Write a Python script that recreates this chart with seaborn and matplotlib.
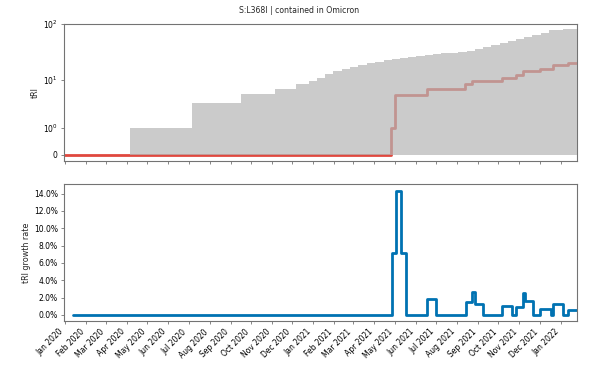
import numpy as np
import pandas as pd
import matplotlib
matplotlib.use('Agg')
import matplotlib.pyplot as plt
import matplotlib.dates as mdates
from matplotlib.ticker import PercentFormatter
import seaborn as sns

# data (step series: value holds until the next date)
title = 'S:L368I | contained in Omicron'

total_dates = ['2019-12-30', '2020-04-06', '2020-07-06', '2020-09-16', '2020-11-05',
               '2020-12-06', '2020-12-26', '2021-01-07', '2021-01-18', '2021-01-30',
               '2021-02-12', '2021-02-24', '2021-03-08', '2021-03-21', '2021-04-02',
               '2021-04-15', '2021-04-27', '2021-05-09', '2021-05-21', '2021-06-02',
               '2021-06-14', '2021-06-26', '2021-07-09', '2021-07-21', '2021-08-02',
               '2021-08-15', '2021-08-27', '2021-09-08', '2021-09-20', '2021-10-03',
               '2021-10-15', '2021-10-27', '2021-11-08', '2021-11-20', '2021-12-03',
               '2021-12-15', '2021-12-24', '2022-01-04', '2022-01-14', '2022-01-25']
total_tri = [0, 1.0, 3.6, 5.3, 6.8,
             8.2, 9.45, 10.9, 12.6, 14.5,
             15.6, 17.2, 18.5, 19.8, 21.3,
             22.7, 23.8, 25.0, 26.1, 27.2,
             28.2, 29.2, 29.9, 30.5, 31.9,
             33.5, 36.0, 38.6, 42.0, 45.5,
             49.8, 54.5, 59.5, 65.0, 70.5,
             76.7, 79.5, 80.5, 81.0, 81.0]

omicron_dates = ['2019-12-30', '2021-04-26', '2021-05-02', '2021-06-18', '2021-08-13',
                 '2021-08-23', '2021-10-06', '2021-10-27', '2021-11-07', '2021-12-02',
                 '2021-12-20', '2022-01-11', '2022-01-25']
omicron_tri = [0, 1.0, 5.1, 6.8, 8.2,
               9.6, 10.7, 12.1, 14.7, 15.8,
               18.2, 19.8, 19.8]

growth_dates = ['2020-01-13', '2021-04-27', '2021-05-03', '2021-05-11', '2021-05-17',
                '2021-06-18', '2021-07-01', '2021-08-14', '2021-08-23', '2021-08-28',
                '2021-09-08', '2021-10-06', '2021-10-21', '2021-10-27', '2021-11-06',
                '2021-11-09', '2021-11-21', '2021-12-02', '2021-12-17', '2021-12-20',
                '2022-01-04', '2022-01-11', '2022-01-25']
growth_rate = [0, 0.0715, 0.143, 0.0715, 0,
               0.0185, 0, 0.0145, 0.027, 0.013,
               0, 0.0108, 0, 0.0096, 0.0258,
               0.0166, 0, 0.0073, 0, 0.0127,
               0, 0.0058, 0.0058]

x_start, x_end = '2019-12-30', '2022-01-25'

sns.set_style('ticks')
plt.rcParams['font.family'] = ['DejaVu Sans']
plt.rcParams.update({
    'font.size': 5.5,
    'axes.edgecolor': '0.45',
    'axes.linewidth': 0.8,
    'xtick.color': '0.45',
    'ytick.color': '0.45',
    'xtick.labelcolor': 'black',
    'ytick.labelcolor': 'black',
    'xtick.major.size': 2.5,
    'ytick.major.size': 2.5,
    'xtick.major.width': 0.6,
    'ytick.major.width': 0.6,
    'xtick.major.pad': 2,
    'ytick.major.pad': 2,
})

fig = plt.figure(figsize=(5.99, 3.79), dpi=100)
ax1 = fig.add_axes([0.1068, 0.5752, 0.8565, 0.3615])
ax2 = fig.add_axes([0.1068, 0.1530, 0.8565, 0.3615], sharex=ax1)

tot = pd.DataFrame({'date': pd.to_datetime(total_dates), 'tri': total_tri})
omi = pd.DataFrame({'date': pd.to_datetime(omicron_dates), 'tri': omicron_tri})
gr = pd.DataFrame({'date': pd.to_datetime(growth_dates), 'rate': growth_rate})

# top: tRI, total as grey area, contained-in-Omicron as red step line
sns.lineplot(data=omi, x='date', y='tri', ax=ax1, drawstyle='steps-post',
             color='#e0483e', lw=2.0, zorder=2)
ax1.fill_between(tot['date'], tot['tri'], step='post', color='#b5b5b5',
                 alpha=0.7, lw=0, zorder=3)
ax1.set_yscale('function', functions=(lambda v: np.log10(np.asarray(v) + 0.5),
                                      lambda t: 10 ** np.asarray(t) - 0.5))
ax1.set_ylim(-0.11, 100)
ax1.set_yticks([0, 1, 10, 100])
ax1.set_yticklabels(['0', r'$10^0$', r'$10^1$', r'$10^2$'])
ax1.set_ylabel('tRI', fontsize=5.8, labelpad=2)
ax1.set_xlabel('')
ax1.tick_params(axis='x', labelbottom=False)

# bottom: growth rate
sns.lineplot(data=gr, x='date', y='rate', ax=ax2, drawstyle='steps-post',
             color='#0072b2', lw=2.0)
ax2.set_ylim(-0.007, 0.151)
ax2.set_yticks(np.arange(0, 0.141, 0.02))
ax2.yaxis.set_major_formatter(PercentFormatter(xmax=1, decimals=1))
ax2.set_ylabel('tRI growth rate', fontsize=5.8, labelpad=2)
ax2.set_xlabel('')

ax2.set_xlim(pd.Timestamp(x_start), pd.Timestamp(x_end))
ax2.xaxis.set_major_locator(mdates.MonthLocator())
ax2.xaxis.set_major_formatter(mdates.DateFormatter('%b %Y'))
plt.setp(ax2.get_xticklabels(), rotation=45, ha='right')

fig.suptitle(title, fontsize=5.6, y=0.971, va='center')

plt.savefig('out.png', dpi=100)
